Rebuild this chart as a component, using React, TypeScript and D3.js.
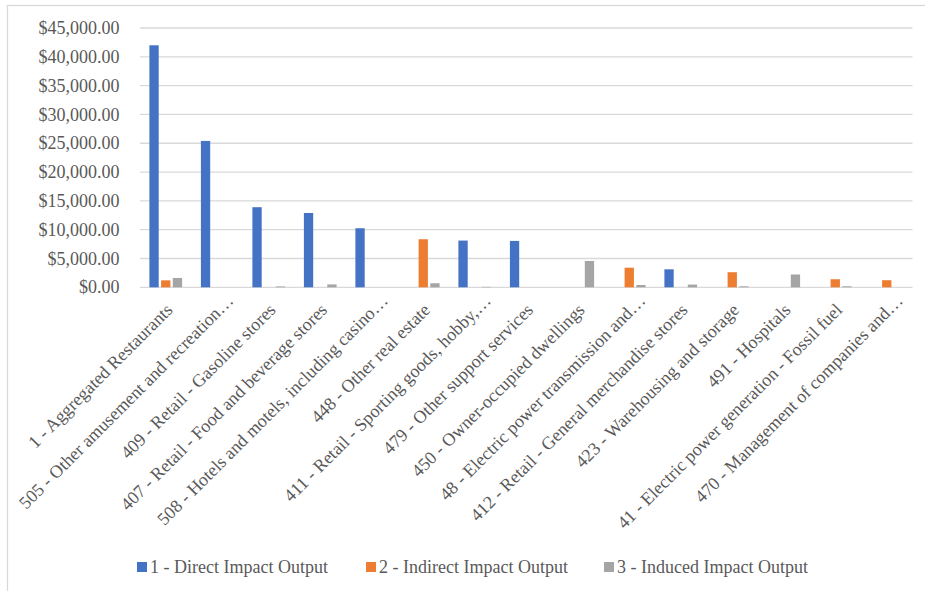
import React from 'react';
import * as d3 from 'd3';

// 行业类别（标签原图里就被截断了，保留省略号）
const categories = [
  '1 - Aggregated Restaurants',
  '505 - Other amusement and recreation…',
  '409 - Retail - Gasoline stores',
  '407 - Retail - Food and beverage stores',
  '508 - Hotels and motels, including casino…',
  '448 - Other real estate',
  '411 - Retail - Sporting goods, hobby,…',
  '479 - Other support services',
  '450 - Owner-occupied dwellings',
  '48 - Electric power transmission and…',
  '412 - Retail - General merchandise stores',
  '423 - Warehousing and storage',
  '491 - Hospitals',
  '41 - Electric power generation - Fossil  fuel',
  '470 - Management of companies and…',
];

const seriesNames = ['1 - Direct Impact Output', '2 - Indirect Impact Output', '3 - Induced Impact Output'];
const seriesColors = ['#4472C4', '#ED7D31', '#A5A5A5'];

const direct = [42000, 25400, 13900, 12900, 10250, 0, 8110, 8050, 0, 0, 3120, 0, 0, 0, 0];
const indirect = [1210, 0, 0, 0, 0, 8340, 0, 0, 0, 3400, 0, 2620, 0, 1400, 1230];
const induced = [1620, 0, 150, 500, 0, 700, 80, 0, 4570, 400, 470, 170, 2220, 170, 0];

const yTicks = [0, 5000, 10000, 15000, 20000, 25000, 30000, 35000, 40000, 45000];

const W = 925, H = 591;
const font = '"Liberation Serif", "Times New Roman", serif';
const textColor = '#595959';

const App: React.FC = () => {
  const values = [direct, indirect, induced];

  const x0 = d3.scaleBand<string>().domain(categories).range([140, 912.5]);
  const groupPad = 9.4;
  const x1 = d3.scaleBand<number>()
    .domain([0, 1, 2])
    .range([groupPad, x0.bandwidth() - groupPad])
    .paddingInner(0.205);
  const y = d3.scaleLinear().domain([0, 45000]).range([287.3, 28]);
  const fmt = d3.format('$,.2f');

  // 图例位置
  const legendX = [137, 366, 604];

  return (
    <svg width={W} height={H} style={{ position: 'absolute', left: 0, top: 0 }} fontFamily={font}>
      <rect x={0} y={0} width={W} height={H} fill="#fff" />
      <rect x={7.5} y={5.5} width={940} height={620} fill="none" stroke="#D9D9D9" strokeWidth={1.3} />

      {/* 网格线 + Y 轴刻度 */}
      {yTicks.map(t => (
        <g key={t}>
          <line x1={140} x2={912.5} y1={y(t)} y2={y(t)} stroke="#D9D9D9" strokeWidth={1.3} />
          <text x={119.5} y={y(t)} dy="0.34em" textAnchor="end" fontSize={18} fill={textColor}>
            {fmt(t)}
          </text>
        </g>
      ))}

      {/* 柱子 */}
      {categories.map((c, i) => (
        <g key={c} transform={`translate(${x0(c)},0)`}>
          {values.map((s, j) => s[i] > 0 && (
            <rect key={j} x={x1(j)} y={y(s[i])} width={x1.bandwidth()}
              height={y(0) - y(s[i])} fill={seriesColors[j]} />
          ))}
        </g>
      ))}

      {/* 类别标签，-45 度 */}
      {categories.map(c => {
        const cx = (x0(c) ?? 0) + x0.bandwidth() / 2;
        const cut = c.endsWith('…');
        return (
          <text key={c} transform={`translate(${cx + 8},${311}) rotate(-45)`}
            dx={cut ? 13 : 0} textAnchor="end" fontSize={18} fill={textColor}>
            {c}
          </text>
        );
      })}

      {/* 图例 */}
      {seriesNames.map((n, j) => (
        <g key={n}>
          <rect x={legendX[j]} y={562} width={10} height={10} fill={seriesColors[j]} />
          <text x={legendX[j] + 13} y={567} dy="0.34em" fontSize={18} fill={textColor}>{n}</text>
        </g>
      ))}
    </svg>
  );
};

export default App;
